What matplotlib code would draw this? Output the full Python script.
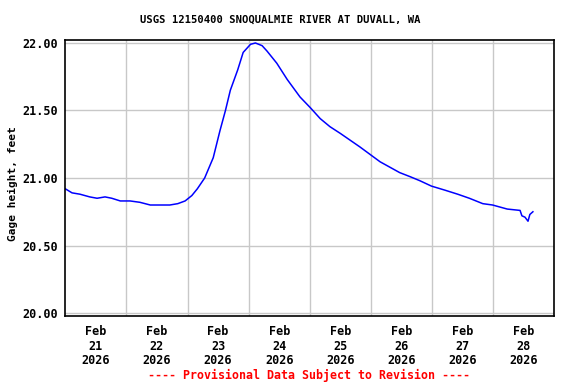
import numpy as np
import matplotlib
matplotlib.use("Agg")
import matplotlib.pyplot as plt

# days since Feb 21 2026 00:00, gage height in feet
days = [0.00, 0.11, 0.24, 0.40, 0.52, 0.65, 0.76, 0.90, 1.06, 1.22, 1.39, 1.55,
        1.71, 1.84, 1.96, 2.07, 2.16, 2.28, 2.42, 2.53, 2.62, 2.70, 2.82, 2.91,
        3.03, 3.11, 3.22, 3.30, 3.46, 3.63, 3.84, 4.01, 4.17, 4.33, 4.50, 4.66,
        4.82, 5.00, 5.15, 5.31, 5.47, 5.64, 5.80, 5.99, 6.21, 6.42, 6.61, 6.83,
        6.99, 7.23, 7.44, 7.47, 7.52, 7.57, 7.60, 7.65]
height = [20.92, 20.89, 20.88, 20.86, 20.85, 20.86, 20.85, 20.83, 20.83, 20.82, 20.80, 20.80,
          20.80, 20.81, 20.83, 20.87, 20.92, 21.00, 21.15, 21.35, 21.50, 21.65, 21.80, 21.93,
          21.99, 22.00, 21.98, 21.94, 21.85, 21.73, 21.60, 21.52, 21.44, 21.38, 21.33, 21.28,
          21.23, 21.17, 21.12, 21.08, 21.04, 21.01, 20.98, 20.94, 20.91, 20.88, 20.85, 20.81,
          20.80, 20.77, 20.76, 20.72, 20.71, 20.68, 20.73, 20.75]

day_labels = ["Feb\n21\n2026", "Feb\n22\n2026", "Feb\n23\n2026", "Feb\n24\n2026",
              "Feb\n25\n2026", "Feb\n26\n2026", "Feb\n27\n2026", "Feb\n28\n2026"]
y_ticks = [20.0, 20.5, 21.0, 21.5, 22.0]

font = {"family": "DejaVu Sans Mono", "weight": "bold", "size": 8}
title_font = {"family": "DejaVu Sans Mono", "weight": "bold", "size": 7.6}
big = {"family": "DejaVu Sans Mono", "weight": "bold", "size": 8.4}
plt.rcParams["font.family"] = "DejaVu Sans Mono"
plt.rcParams["font.weight"] = "bold"
plt.rcParams["font.size"] = 8.5

fig = plt.figure(figsize=(5.76, 3.84), dpi=100)
ax = fig.add_axes([65.3/576, 1-316/384, (554.3-65.3)/576, (316-40)/384])

ax.plot(days, height, color="#0000ff", lw=1.1)

ax.set_xlim(0, 8)
ax.set_ylim(19.978, 22.022)

# gridlines at midnight, labels at noon
ax.set_xticks(np.arange(1, 8))
ax.set_xticklabels([])
ax.set_xticks(np.arange(0.5, 8, 1), minor=True)
ax.set_xticklabels(day_labels, minor=True, linespacing=1.15)
ax.set_yticks(y_ticks)
ax.set_yticklabels(["%.2f" % v for v in y_ticks])
ax.tick_params(axis="both", which="both", length=0)
ax.tick_params(axis="x", which="minor", pad=6.5)
ax.tick_params(axis="y", pad=5.5)
ax.grid(True, which="major", color="#c8c8c8", lw=1)
ax.set_axisbelow(True)
for s in ax.spines.values():
    s.set_linewidth(1.2)
    s.set_color("black")

ax.set_ylabel("Gage height, feet", fontdict=font)
ax.yaxis.set_label_coords(-0.097, 0.48)

fig.text(280/576, 1-20/384, "USGS 12150400 SNOQUALMIE RIVER AT DUVALL, WA", ha="center", va="center", fontdict=title_font)
fig.text(309/576, 1-375/384, "---- Provisional Data Subject to Revision ----", ha="center", va="center",
         color="red", fontdict=big)

fig.savefig("out.png", dpi=100)
